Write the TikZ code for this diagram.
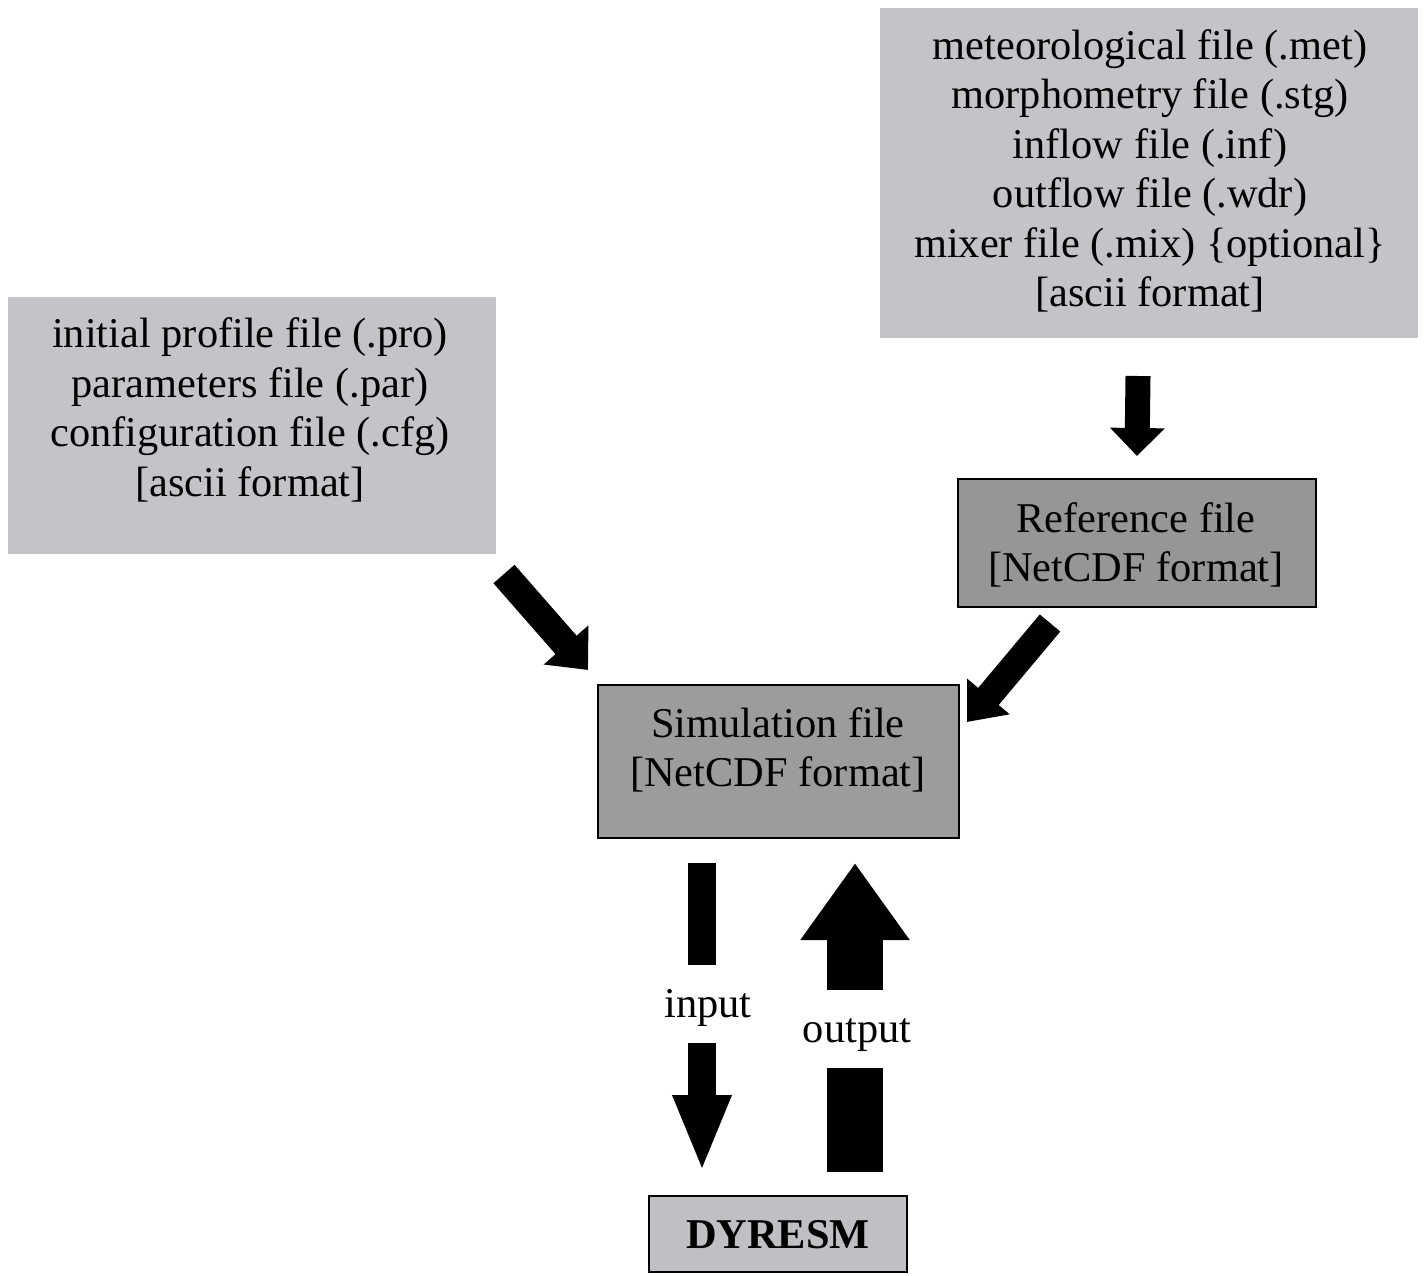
\documentclass[tikz,border=0pt]{standalone}
\usepackage{fontspec}
\setmainfont{Liberation Serif}
\usetikzlibrary{arrows.meta}
\definecolor{lightbox}{RGB}{196,195,200}
\definecolor{refbox}{RGB}{150,150,152}
\definecolor{simbox}{RGB}{156,156,156}
\definecolor{dybox}{RGB}{192,192,196}
\begin{document}
\begin{tikzpicture}[x=0.75pt,y=-0.75pt,
  box/.style={inner sep=0pt, outer sep=0pt},
  framed/.style={box, draw=black, line width=1.5pt},
  txt/.style={font=\fontsize{31.8}{37.1}\selectfont, align=center, inner sep=0pt},
  gap/.style={box, fill=white},
  blkarrow/.style n args={3}{line width=#1, -{Triangle[width=#2,length=#3]}}]
\useasboundingbox (0,0) rectangle (1426,1275);
% boxes
\node[box, fill=lightbox, minimum width=403.5pt, minimum height=247.5pt] (metbox) at (1149,173) {};
\node[box, fill=lightbox, minimum width=366pt, minimum height=192.75pt] (probox) at (252,425.5) {};
\node[framed, fill=refbox, minimum width=268.5pt, minimum height=96pt] (ref) at (1137,543) {};
\node[framed, fill=simbox, minimum width=270.75pt, minimum height=114.75pt] (sim) at (778.5,761.5) {};
\node[framed, fill=dybox, minimum width=193.5pt, minimum height=57pt] (dy) at (778,1234) {};
% texts
\node[txt] (mettxt) at (1150,171) {meteorological file (.met)\\morphometry file (.stg)\\inflow file (.inf)\\outflow file (.wdr)\\mixer file (.mix) \{optional\}\\{}[ascii format]};
\node[txt] (protxt) at (250,410) {initial profile file (.pro)\\parameters file (.par)\\configuration file (.cfg)\\{}[ascii format]};
\node[txt] (reftxt) at (1136,545) {Reference file\\{}[NetCDF format]};
\node[txt] (simtxt) at (778,750) {Simulation file\\{}[NetCDF format]};
\node[txt, font=\fontsize{31.8}{37.1}\selectfont\bfseries] (dytxt) at (778,1235) {DYRESM};
% arrow end points
\coordinate (a1s) at (1138,376);
\coordinate (a1e) at (1137,456);
\coordinate (a2s) at (504,574);
\coordinate (a2e) at (588,670);
\coordinate (a3s) at (1050,623);
\coordinate (a3e) at (967,722);
\coordinate (ins) at (702,863);
\coordinate (ine) at (702,1172);
\coordinate (outs) at (855,1172);
\coordinate (oute) at (855,863);
% arrows
\draw[blkarrow={18.75pt}{39.75pt}{21pt}] (a1s) -- (a1e);
\draw[blkarrow={21pt}{43pt}{25pt}] (a2s) -- (a2e);
\draw[blkarrow={20pt}{40pt}{25pt}] (a3s) -- (a3e);
\draw[blkarrow={21pt}{40pt}{57.75pt}] (ins) -- (ine);
\draw[blkarrow={42pt}{78pt}{57.75pt}] (outs) -- (oute);
% gaps in the input / output arrows, with their labels
\node[gap, minimum width=40pt, minimum height=58.5pt] (ingap) at (702,1004) {};
\node[gap, minimum width=60pt, minimum height=58.5pt] (outgap) at (855,1029) {};
\node[txt] (inlbl) at (708,1008) {input};
\node[txt] (outlbl) at (857,1035) {output};
\end{tikzpicture}
\end{document}
